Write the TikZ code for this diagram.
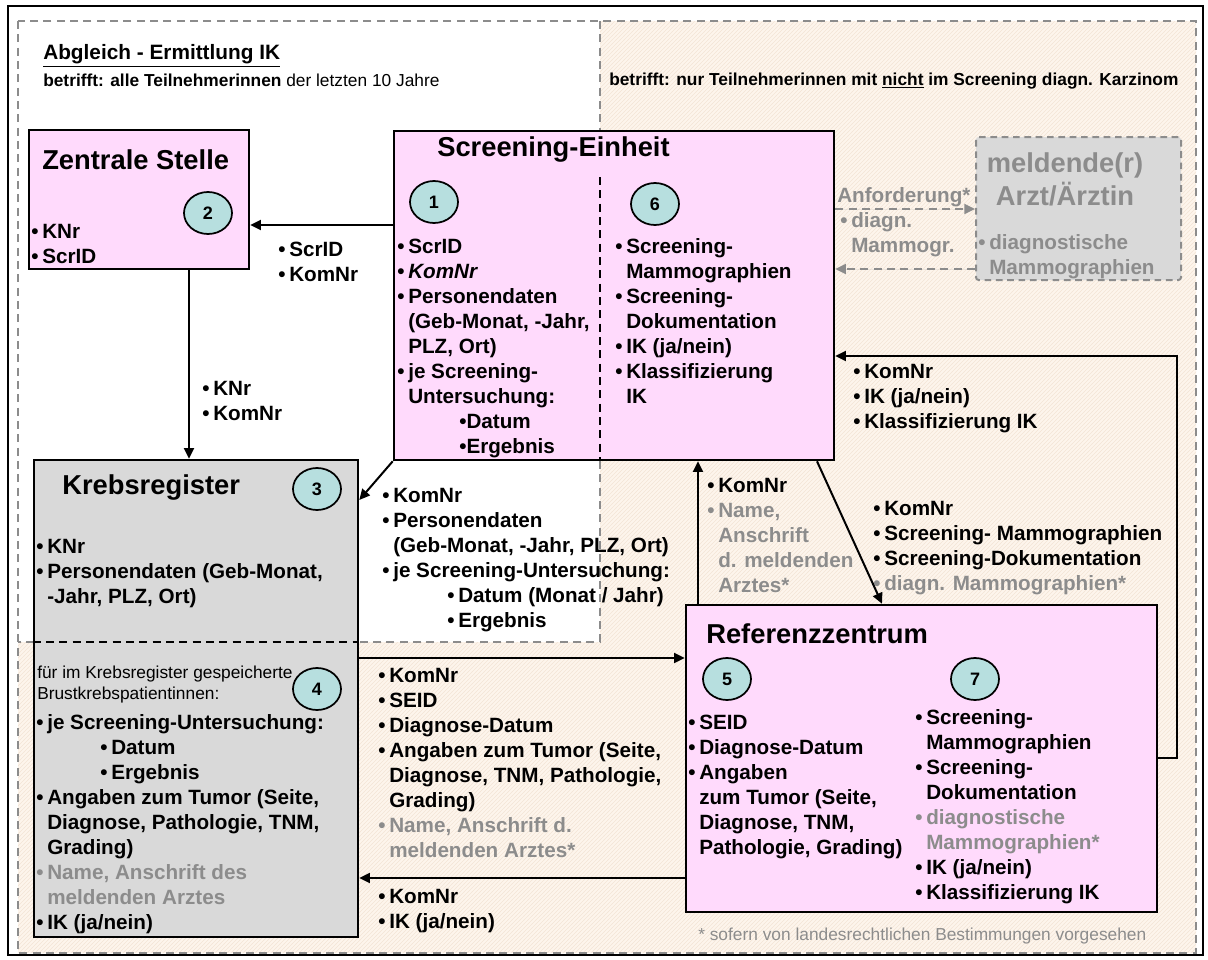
\documentclass[tikz,border=0pt]{standalone}
\usepackage{fontspec}
\setmainfont{Liberation Sans}
\usepackage{xcolor}
\usetikzlibrary{arrows.meta,positioning,fit,shapes.geometric,patterns}

\definecolor{unitpink}{HTML}{FFDAFC}
\definecolor{regfill}{HTML}{D9D9D9}
\definecolor{badgefill}{HTML}{B7DFDF}
\definecolor{zonefill}{HTML}{FDF5EC}
\definecolor{zonehatch}{HTML}{F3E4D5}
\definecolor{zoneline}{HTML}{8C8C8C}
\definecolor{txtgrey}{HTML}{8C8C8C}

\newcommand{\bul}{\makebox[8.25pt][l]{\textbullet}}
\newcommand{\ind}{\hspace*{8.25pt}}

\begin{document}
\begin{tikzpicture}[
  x=0.75pt,
  y=-0.75pt,
  unit/.style={fill=unitpink, draw=black, line width=1.9pt, inner sep=0pt},
  registry/.style={fill=regfill, draw=black, line width=1.9pt, inner sep=0pt},
  doctor/.style={fill=regfill, draw=zoneline, line width=1.5pt, dash pattern=on 5pt off 3.5pt, rounded corners=2pt, inner sep=0pt},
  badge/.style={ellipse, fill=badgefill, draw=black, line width=1.3pt, minimum width=36pt, minimum height=31.5pt, inner sep=0pt, font=\fontsize{13.5}{16}\selectfont\bfseries},
  zone/.style={draw=zoneline, line width=1.5pt, dash pattern=on 6pt off 4pt},
  split/.style={draw=black, line width=1.3pt, dash pattern=on 6pt off 4pt},
  items/.style={anchor=base west, align=left, inner sep=0pt, font=\fontsize{15.5}{18.75}\selectfont\bfseries},
  greyitems/.style={items, text=txtgrey},
  head/.style={anchor=base west, align=left, inner sep=0pt, font=\fontsize{20.5}{24.75}\selectfont\bfseries},
  note/.style={anchor=base west, align=left, inner sep=0pt, font=\fontsize{13}{15.75}\selectfont},
  flow/.style={line width=1.5pt, -{Triangle[length=8pt,width=7.5pt]}},
  request/.style={flow, draw=zoneline, fill=zoneline, dash pattern=on 6pt off 4pt}
]
  \useasboundingbox (0,0) rectangle (1208,960);
  \fill[white] (0,0) rectangle (1208,960);

  % zones
  \fill[zonefill] (600,21) -- (1196,21) -- (1196,953) -- (18,953) -- (18,642) -- (600,642) -- cycle;
  \fill[pattern=north east lines, pattern color=zonehatch] (600,21) -- (1196,21) -- (1196,953) -- (18,953) -- (18,642) -- (600,642) -- cycle;
  \draw[zone] (18,21) rectangle (1196,953);
  \draw[zone] (600,21) -- (600,642) -- (18,642);
  \draw[line width=2pt] (8,6) rectangle (1203,955);

  \node[font=\fontsize{15.6}{18}\selectfont\bfseries, anchor=base west, inner sep=0pt] (abgleich) at (43,60) {\underline{Abgleich - Ermittlung IK}};
  \node[font=\fontsize{13}{15}\selectfont, anchor=base west, inner sep=0pt] (alle) at (43,86) {\textbf{betrifft: alle Teilnehmerinnen} der letzten 10 Jahre};
  \node[font=\fontsize{13}{15}\selectfont\bfseries, anchor=base west, inner sep=0pt] (nur) at (609,85) {betrifft: nur Teilnehmerinnen mit \underline{nicht} im Screening diagn. Karzinom};

  % boxes
  \node[unit, fit={(29,130) (249,269)}] (zentrale) {};
  \node[unit, fit={(394,131) (834,460)}] (einheit) {};
  \node[doctor, fit={(976,137) (1181,280)}] (arzt) {};
  \node[registry, fit={(34,460) (358,937)}] (krebs) {};
  \node[unit, fit={(686,605) (1157,912)}] (referenz) {};

  \draw[split] (600,177) -- (600,0 |- einheit.south);
  \draw[split] (krebs.west |- 0,642) -- (krebs.east |- 0,642);

  \node[badge] (b1) at (434,202) {1};
  \node[badge] (b2) at (208,213) {2};
  \node[badge] (b3) at (317,489) {3};
  \node[badge] (b4) at (317,689) {4};
  \node[badge] (b5) at (727,679) {5};
  \node[badge] (b6) at (655,204) {6};
  \node[badge] (b7) at (975,679) {7};

  % Zentrale Stelle (multi-line nodes sit on their last baseline)
  \node[head] (zentraletitle) at (42,169) {Zentrale Stelle};
  \node[items] (zentraledata) at (31,263) {\bul KNr\\ \bul ScrID};

  % Screening-Einheit
  \node[head] (einheittitle) at (437,156) {Screening-Einheit};
  \node[items] (einheitdata) at (397,453) {\bul ScrID\\ \bul \textit{KomNr}\\ \bul Personendaten\\ \ind (Geb-Monat, -Jahr,\\ \ind PLZ, Ort)\\ \bul je Screening-\\ \ind Untersuchung:\\ \hspace*{46.5pt}\textbullet Datum\\ \hspace*{46.5pt}\textbullet Ergebnis};
  \node[items] (einheitbilder) at (615,403) {\bul Screening-\\ \ind Mammographien\\ \bul Screening-\\ \ind Dokumentation\\ \bul IK (ja/nein)\\ \bul Klassifizierung\\ \ind IK};

  % meldende(r) Arzt/Aerztin
  \node[head, anchor=base, align=center, text=txtgrey] (arzttitle) at (1065,205) {meldende(r)\\ Arzt/Ärztin};
  \node[greyitems] (arztdata) at (978,274) {\bul diagnostische\\ \ind Mammographien};
  \node[greyitems] (anforderung) at (837,202) {Anforderung*};
  \node[greyitems] (mammogr) at (840,252) {\bul diagn.\\ \ind Mammogr.};

  % Krebsregister
  \node[head] (krebstitle) at (62,494) {Krebsregister};
  \node[items] (krebsdata) at (36,603) {\bul KNr\\ \bul Personendaten (Geb-Monat,\\ \ind -Jahr, PLZ, Ort)};
  \node[note] (patientinnen) at (37,699) {für im Krebsregister gespeicherte\\ Brustkrebspatientinnen:};
  \node[items] (krebstumor) at (36,929) {\bul je Screening-Untersuchung:\\ \hspace*{48pt}\bul Datum\\ \hspace*{48pt}\bul Ergebnis\\ \bul Angaben zum Tumor (Seite,\\ \ind Diagnose, Pathologie, TNM,\\ \ind Grading)\\ {\color{txtgrey}\bul Name, Anschrift des}\\ {\color{txtgrey}\ind meldenden Arztes}\\ \bul IK (ja/nein)};

  % Referenzzentrum
  \node[head] (referenztitle) at (706,643) {Referenzzentrum};
  \node[items] (referenzdata) at (688,854) {\bul SEID\\ \bul Diagnose-Datum\\ \bul Angaben\\ \ind zum Tumor (Seite,\\ \ind Diagnose, TNM,\\ \ind Pathologie, Grading)};
  \node[items] (referenzbilder) at (915,899) {\bul Screening-\\ \ind Mammographien\\ \bul Screening-\\ \ind Dokumentation\\ {\color{txtgrey}\bul diagnostische}\\ {\color{txtgrey}\ind Mammographien*}\\ \bul IK (ja/nein)\\ \bul Klassifizierung IK};

  % connector labels
  \node[items] (l12) at (278,281) {\bul ScrID\\ \bul KomNr};
  \node[items] (l23) at (202,420) {\bul KNr\\ \bul KomNr};
  \node[items] (l13) at (382,627) {\bul KomNr\\ \bul Personendaten\\ \ind (Geb-Monat, -Jahr, PLZ, Ort)\\ \bul je Screening-Untersuchung:\\ \hspace*{48.75pt}\bul Datum (Monat / Jahr)\\ \hspace*{48.75pt}\bul Ergebnis};
  \node[items] (l45) at (378,857) {\bul KomNr\\ \bul SEID\\ \bul Diagnose-Datum\\ \bul Angaben zum Tumor (Seite,\\ \ind Diagnose, TNM, Pathologie,\\ \ind Grading)\\ {\color{txtgrey}\bul Name, Anschrift d.}\\ {\color{txtgrey}\ind meldenden Arztes*}};
  \node[items] (l54) at (378,928) {\bul KomNr\\ \bul IK (ja/nein)};
  \node[items] (l51) at (707,592) {\bul KomNr\\ {\color{txtgrey}\bul Name,}\\ {\color{txtgrey}\ind Anschrift}\\ {\color{txtgrey}\ind d. meldenden}\\ {\color{txtgrey}\ind Arztes*}};
  \node[items] (l65) at (873,590) {\bul KomNr\\ \bul Screening- Mammographien\\ \bul Screening-Dokumentation\\ {\color{txtgrey}\bul diagn. Mammographien*}};
  \node[items] (l76) at (853,428) {\bul KomNr\\ \bul IK (ja/nein)\\ \bul Klassifizierung IK};

  \node[note, text=txtgrey, font=\fontsize{13}{15}\selectfont] (fussnote) at (698,940) {* sofern von landesrechtlichen Bestimmungen vorgesehen};

  % connectors
  \draw[flow] (einheit.west |- 0,225) -- (zentrale.east |- 0,225);
  \draw[flow] (189,0 |- zentrale.south) -- (189,0 |- krebs.north);
  \draw[flow] (einheit.south west) -- (krebs.east |- 0,500);
  \draw[flow] (krebs.east |- 0,658) -- (referenz.west |- 0,658);
  \draw[flow] (referenz.west |- 0,878) -- (krebs.east |- 0,878);
  \draw[flow] (698,0 |- referenz.north) -- (698,0 |- einheit.south);
  \draw[flow] (817,0 |- einheit.south) -- (882,0 |- referenz.north);
  \draw[flow] (referenz.east |- 0,758) -- (1177,758) -- (1177,356) -- (einheit.east |- 0,356);
  \draw[request] (einheit.east |- 0,209) -- (arzt.west |- 0,209);
  \draw[request] (arzt.west |- 0,269) -- (einheit.east |- 0,269);
\end{tikzpicture}
\end{document}
